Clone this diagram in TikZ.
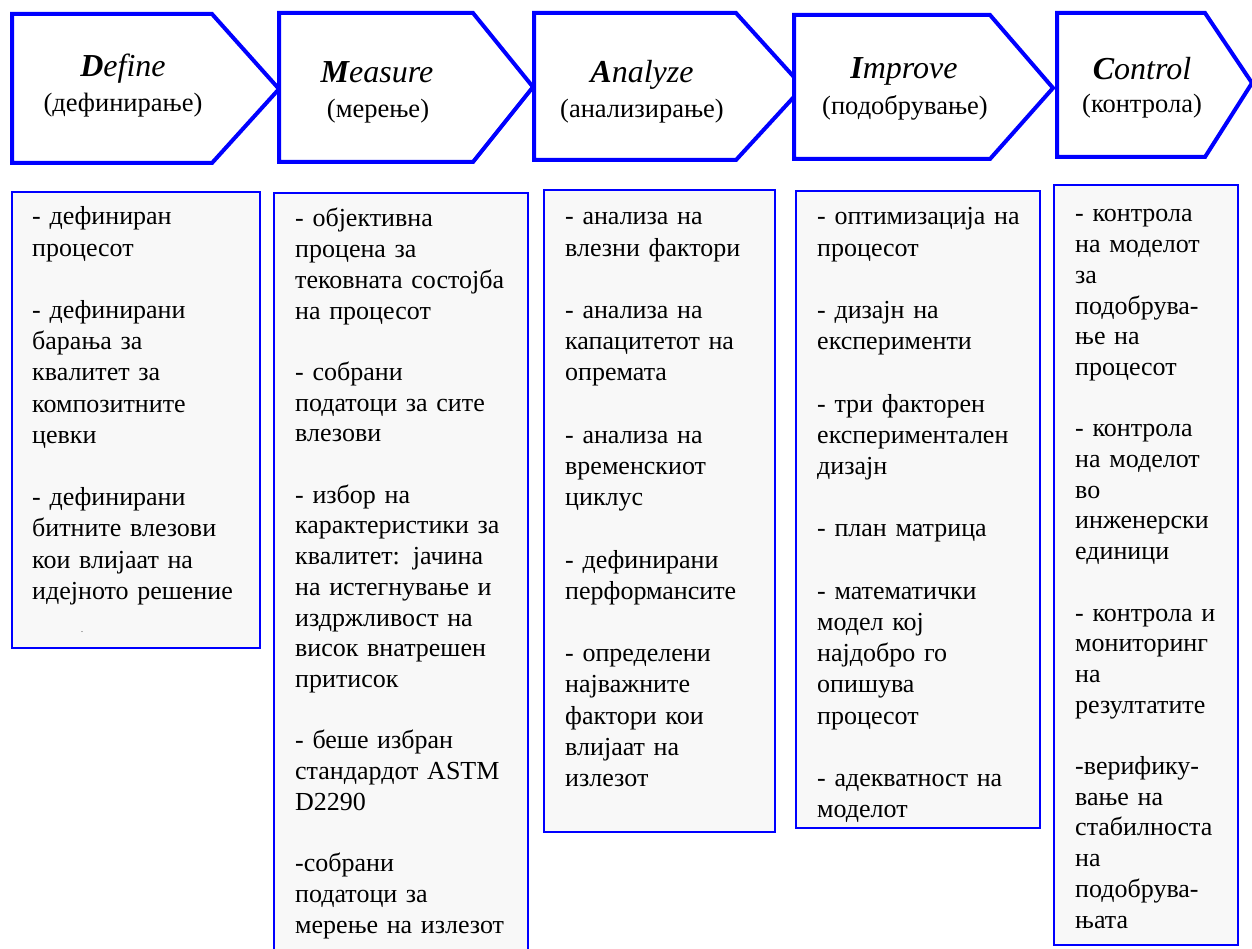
\documentclass[tikz,border=0pt]{standalone}
\usepackage{fontspec}
\setmainfont{Liberation Serif}
\definecolor{pblue}{RGB}{0,0,255}
\definecolor{boxgray}{RGB}{248,248,248}
\tikzset{
  arrowshape/.style={draw=pblue, line width=4pt, fill=white, line join=miter},
  infobox/.style={draw=pblue, line width=2pt, fill=boxgray},
  titletext/.style={font=\fontsize{32}{36}\selectfont\itshape, anchor=base, inner sep=0pt},
  subtext/.style={font=\fontsize{26.5}{31}\selectfont, anchor=base, inner sep=0pt},
  boxtext/.style={font=\fontsize{26}{31.2}\selectfont, anchor=base west, inner sep=0pt, text width=320pt, align=left},
  boxtextb/.style={font=\fontsize{26}{30.7}\selectfont, anchor=base west, inner sep=0pt, text width=320pt, align=left},
}
\newcommand{\gap}{\\[31.2pt]}
\newcommand{\gapb}{\\[30.7pt]}
\begin{document}
\begin{tikzpicture}[x=1pt,y=-1pt]
\useasboundingbox[fill=white] (0,0) rectangle (1252,949);

% phase arrows
\draw[arrowshape] (12,14) -- (212,14) -- (279,89) -- (212,163) -- (12,163) -- cycle;
\draw[arrowshape] (279,13) -- (473,13) -- (533,87) -- (473,162) -- (279,162) -- cycle;
\draw[arrowshape] (534,13) -- (736,13) -- (803,87) -- (736,160) -- (534,160) -- cycle;
\draw[arrowshape] (794,15) -- (990,15) -- (1053,88) -- (990,159) -- (794,159) -- cycle;
\draw[arrowshape] (1057,13) -- (1205,13) -- (1252,83) -- (1205,157) -- (1057,157) -- cycle;

\node[titletext] (t1) at (123,77) {\textbf{D}efine};
\node[subtext]   (s1) at (123,112) {(дефинирање)};
\node[titletext] (t2) at (377,83) {\textbf{M}easure};
\node[subtext]   (s2) at (378,118) {(мерење)};
\node[titletext] (t3) at (642,83) {\textbf{A}nalyze};
\node[subtext]   (s3) at (642,118) {(анализирање)};
\node[titletext] (t4) at (904,79) {\textbf{I}mprove};
\node[subtext]   (s4) at (905,115) {(подобрување)};
\node[titletext] (t5) at (1142,80) {\textbf{C}ontrol};
\node[subtext]   (s5) at (1142,113) {(контрола)};

% detail boxes
\draw[infobox] (12,192) rectangle (260,648);
\draw[infobox] (274,193) rectangle (528,960);
\draw[infobox] (544,190) rectangle (775,832);
\draw[infobox] (796,191) rectangle (1040,828);
\draw[infobox] (1054,185) rectangle (1238,945);

\node[boxtext] (b1) at (32,225) {- дефиниран\\процесот\gap
- дефинирани\\барања за\\квалитет за\\композитните\\цевки\gap
- дефинирани\\битните влезови\\кои влијаат на\\идејното решение};
\node[font=\fontsize{8}{8}\selectfont, inner sep=0pt] (dot1) at (82,632) {.};

\node[boxtextb] (b2) at (295,227) {- објективна\\процена за\\тековната состојба\\на процесот\gapb
- собрани\\податоци за сите\\влезови\gapb
- избор на\\карактеристики за\\квалитет: јачина\\на истегнување и\\издржливост на\\висок внатрешен\\притисок\gapb
- беше избран\\стандардот ASTM\\D2290\gapb
-собрани\\податоци за\\мерење на излезот};

\node[boxtext] (b3) at (565,225) {- анализа на\\влезни фактори\gap
- анализа на\\капацитетот на\\опремата\gap
- анализа на\\временскиот\\циклус\gap
- дефинирани\\перформансите\gap
- определени\\најважните\\фактори кои\\влијаат на\\излезот};

\node[boxtext] (b4) at (817,225) {- оптимизација на\\процесот\gap
- дизајн на\\експерименти\gap
- три факторен\\експериментален\\дизајн\gap
- план матрица\gap
- математички\\модел кој\\најдобро го\\опишува\\процесот\gap
- адекватност на\\моделот};

\node[boxtextb] (b5) at (1075,222) {- контрола\\на моделот\\за\\подобрува-\\ње на\\процесот\gapb
- контрола\\на моделот\\во\\инженерски\\единици\gapb
- контрола и\\мониторинг\\на\\резултатите\gapb
-верифику-\\вање на\\стабилноста\\на\\подобрува-\\њата};
\end{tikzpicture}
\end{document}
